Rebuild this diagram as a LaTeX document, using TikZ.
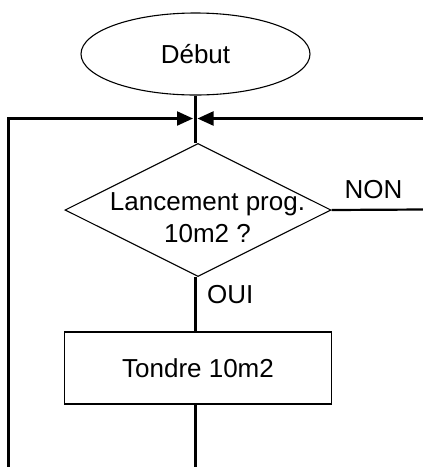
\documentclass[tikz,border=0pt]{standalone}
\usepackage{fontspec}
\setmainfont{Liberation Sans}
\usetikzlibrary{shapes.geometric,arrows.meta}
\begin{document}
\begin{tikzpicture}[x=1pt,y=-1pt,
  txt/.style={font=\fontsize{26}{32}\selectfont},
  shapeline/.style={draw=black,line width=1.1pt},
  conn/.style={draw=black,line width=2.2pt},
  tip/.style={-{Triangle[length=16pt,width=14pt]}},
  startnode/.style={shapeline,txt,ellipse,minimum width=229pt,minimum height=82pt,inner sep=0pt,text height=18.6pt,text depth=0pt},
  decision/.style={shapeline,diamond,aspect=2,minimum width=266pt,minimum height=133pt,inner sep=0pt},
  action/.style={shapeline,txt,rectangle,minimum width=267pt,minimum height=72pt,inner sep=0pt,text height=18.6pt,text depth=0pt},
  lbl/.style={txt,inner sep=0pt}]
\useasboundingbox (0,0) rectangle (423,467);
\node[startnode] (deb) at (195.5,54) {Début\hspace{8pt}};
\node[decision] (dia) at (198,210) {};
\node[lbl,align=center,anchor=north] (diat) at (207.5,192) {Lancement prog.\\10m2 ?};
\node[action] (box) at (198,368) {Tondre 10m2\hspace{5pt}};
\node[lbl,anchor=base] (non) at (373.5,198) {NON};
\node[lbl,anchor=base west] (oui) at (207,303) {OUI};
\coordinate (jl) at (193,118.5);
\coordinate (jr) at (197.5,118.5);
\coordinate (lc) at (8.5,118.5);
\coordinate (lb) at (8.5,468);
\coordinate (rt) at (424,118.5);
\coordinate (rn) at (424,209.5);
\coordinate (bt) at (195.5,468);
\draw[conn] (deb.south -| bt) -- (bt |- dia.north);
\draw[conn,tip] (lb) -- (lc) -- (jl);
\draw[conn,tip] (rt) -- (jr);
\draw[conn] (dia.east) -- (rn);
\draw[conn] (bt |- dia.south) -- (bt |- box.north);
\draw[conn] (bt |- box.south) -- (bt);
\end{tikzpicture}
\end{document}
